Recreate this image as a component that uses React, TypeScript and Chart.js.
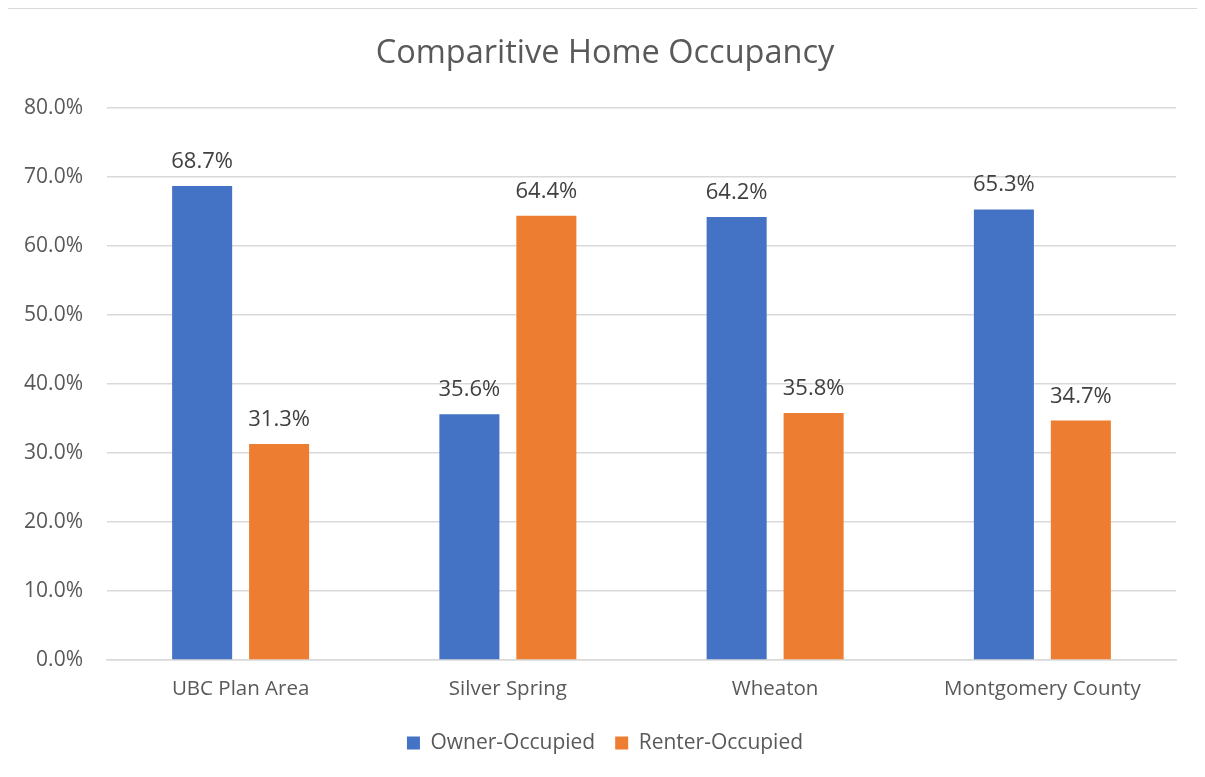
import React, { useEffect, useRef } from "react";
import { Chart, registerables } from "chart.js";

Chart.register(...registerables);

const categories = ["UBC Plan Area", "Silver Spring", "Wheaton", "Montgomery County"];
const ownerOccupied = [68.7, 35.6, 64.2, 65.3];
const renterOccupied = [31.3, 64.4, 35.8, 34.7];
const yTicks = [0, 10, 20, 30, 40, 50, 60, 70, 80];
const chartTitle = "Comparitive Home Occupancy";

const FONT = "'Open Sans', 'Liberation Sans', sans-serif";
const TEXT = "#595959";

const dataLabels = {
  id: "dataLabels",
  afterDatasetsDraw(chart: any) {
    const ctx = chart.ctx;
    ctx.save();
    ctx.font = `22px ${FONT}`;
    ctx.fillStyle = "#404040";
    ctx.textAlign = "center";
    ctx.textBaseline = "alphabetic";
    chart.data.datasets.forEach((ds: any, i: number) => {
      const meta = chart.getDatasetMeta(i);
      meta.data.forEach((bar: any, j: number) => {
        ctx.fillText(ds.data[j].toFixed(1) + "%", bar.x, bar.y - 18);
      });
    });
    ctx.restore();
  },
};

export default function App() {
  const ref = useRef<HTMLCanvasElement>(null);
  useEffect(() => {
    if (!ref.current) return;
    const chart = new Chart(ref.current, {
      type: "bar",
      data: {
        labels: categories,
        datasets: [
          {
            label: "Owner-Occupied",
            data: ownerOccupied,
            backgroundColor: "#4472C4",
            categoryPercentage: 0.576,
            barPercentage: 0.78,
          },
          {
            label: "Renter-Occupied",
            data: renterOccupied,
            backgroundColor: "#ED7D31",
            categoryPercentage: 0.576,
            barPercentage: 0.78,
          },
        ],
      },
      options: {
        animation: false,
        responsive: false,
        maintainAspectRatio: false,
        layout: { padding: { left: 4, right: 0, top: 0, bottom: 13.5 } },
        plugins: {
          title: {
            display: true,
            text: chartTitle,
            color: TEXT,
            font: { family: FONT, size: 32.5, weight: "normal" },
            padding: { top: 25, bottom: 35 },
          },
          legend: {
            position: "bottom",
            labels: {
              color: TEXT,
              font: { family: FONT, size: 21 },
              boxWidth: 13,
              boxHeight: 13,
              padding: 20,
            },
          },
          tooltip: { enabled: false },
        },
        scales: {
          x: {
            afterFit(scale: any) {
              scale.height = 52.5;
            },
            grid: { display: false, drawTicks: false },
            border: { color: "#d9d9d9", width: 1.5 },
            ticks: { color: TEXT, font: { family: FONT, size: 20.5 }, padding: 17 },
          },
          y: {
            min: 0,
            max: 80,
            afterFit(scale: any) {
              scale.width = 95;
            },
            afterBuildTicks(scale: any) {
              scale.ticks = yTicks.map((v) => ({ value: v }));
            },
            grid: { color: "#d9d9d9", lineWidth: 1.5, drawTicks: false },
            border: { display: false },
            ticks: {
              color: TEXT,
              font: { family: FONT, size: 21 },
              padding: 24,
              callback: (v: any) => Number(v).toFixed(1) + "%",
            },
          },
          yRight: {
            position: "right",
            min: 0,
            max: 80,
            afterFit(scale: any) {
              scale.width = 22;
            },
            grid: { display: false, drawTicks: false },
            border: { display: false },
            ticks: { display: false },
          },
        },
      },
      plugins: [dataLabels],
    });
    return () => chart.destroy();
  }, []);
  return (
    <div
      style={{
        width: 1192,
        height: 770,
        border: "1px solid #d9d9d9",
        boxSizing: "border-box",
        marginLeft: -1,
        background: "#fff",
      }}
    >
      <canvas ref={ref} width={1190} height={768} style={{ display: "block" }} />
    </div>
  );
}
